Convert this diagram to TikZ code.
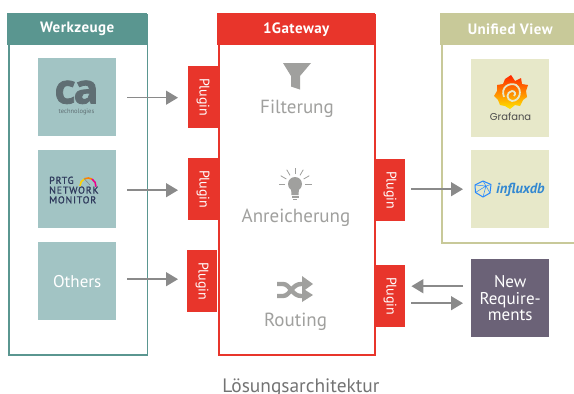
\documentclass[tikz,border=0pt]{standalone}
\usepackage{fontspec}
\setmainfont{PT Sans}
\newfontfamily\logofont{Poppins}
\newfontfamily\caFont{Open Sans}
\usetikzlibrary{arrows.meta,calc,shadings}
\definecolor{teal1}{HTML}{5A9690}
\definecolor{teal2}{HTML}{A2C4C4}
\definecolor{red1}{HTML}{E8352B}
\definecolor{olive1}{HTML}{C8C999}
\definecolor{olive2}{HTML}{E7E8C9}
\definecolor{purple1}{HTML}{6B6277}
\definecolor{gray1}{HTML}{8A8A8A}
\definecolor{gray2}{HTML}{A0A09E}
\definecolor{calogo}{HTML}{5F6E73}
\definecolor{navy1}{HTML}{2F3A5C}
\tikzset{
  frame/.style={draw=#1,line width=1.8pt,fill=white,inner sep=0,anchor=north west},
  head/.style={fill=#1,text=white,font=\fontsize{15}{17}\selectfont\bfseries\addfontfeature{LetterSpace=3},inner sep=0,anchor=north west,minimum height=32pt},
  tile/.style={fill=#1,inner sep=0,minimum width=78pt,minimum height=78pt,anchor=north west,text=white,align=center},
  plug/.style={fill=red1,text=white,inner sep=0,minimum width=30pt,minimum height=62pt,anchor=north west},
  plugt/.style={text=white,font=\fontsize{14}{16}\selectfont,rotate=-90,inner sep=0},
  flow/.style={draw=gray1,line width=1.5pt,-{Triangle[length=12pt,width=14pt,fill=gray1]}},
  func/.style={text=gray2,font=\fontsize{19}{21}\selectfont,inner sep=0,anchor=base},
  ray/.style={draw=gray2,line width=0.8pt},
}
\begin{document}
\begin{tikzpicture}[x=1pt,y=-1pt]
\useasboundingbox (0,0) rectangle (574,394);
% frames
\node[frame=teal1,minimum width=138.5pt,minimum height=340pt] (wbox) at (8,14) {};
\node[head=teal1,minimum width=140pt] (whead) at (7,13) {Werkzeuge};
\node[frame=red1,minimum width=156pt,minimum height=340pt] (gbox) at (218,14) {};
\node[head=red1,minimum width=158pt] (ghead) at (217,13) {1Gateway};
\node[frame=olive1,minimum width=150pt,minimum height=228pt] (ubox) at (441,14) {};
\node[head=olive1,minimum width=140pt] (uhead) at (440,13) {Unified View};
% tiles
\node[tile=teal2] (ca) at (38,58) {};
\node[tile=teal2] (prtg) at (38,150) {};
\node[tile=teal2,font=\fontsize{17}{19}\selectfont] (others) at (38,242) {Others};
\node[tile=olive2] (grafana) at (471,59) {};
\node[tile=olive2] (influx) at (471,150) {};
\node[tile=purple1,font=\fontsize{17}{16.8}\selectfont] (newreq) at (471,259) {New\\Require-\\ments};
% plugins
\node[plug] (p1) at (188,66) {};
\node[plug] (p2) at (188,158) {};
\node[plug] (p3) at (187,250) {};
\node[plug] (p4) at (375,159) {};
\node[plug] (p5) at (375,265) {};
\foreach \p in {p1,p2,p3,p4,p5}{\node[plugt] at (\p.center) {Plugin};}
% connectors
\draw[flow] ($(ca.east)+(11,0.5)$) -- ($(p1.west)+(-10,0.5)$);
\draw[flow] ($(prtg.east)+(11,1)$) -- ($(p2.west)+(-10,1)$);
\draw[flow] ($(others.east)+(11,-2)$) -- ($(p3.west)+(-9,-2)$);
\draw[flow] ($(p4.east)+(6,-1)$) -- ($(influx.west)+(-8,0)$);
\draw[flow] ($(newreq.west)+(-8,-12)$) -- ($(p5.east)+(6,-10)$);
\draw[flow] ($(p5.east)+(6,7)$) -- ($(newreq.west)+(-8,5)$);
% ca logo
\node[inner sep=0,anchor=base,text=calogo,font=\caFont\fontsize{41}{41}\selectfont\bfseries] (calogotxt) at (76.5,103.5) {\addfontfeature{LetterSpace=-5,FakeBold=2}ca};
\node[inner sep=0,text=calogo,font=\fontsize{6.5}{7}\selectfont] (catext) at (76.5,111.5) {technologies};
% prtg logo
\node[inner sep=0,anchor=north west,align=left,text=navy1,font=\fontsize{10}{9.8}\selectfont] (prtgtext) at (49,176.5) {\addfontfeature{LetterSpace=8,FakeBold=1.2}PRTG\\\addfontfeature{LetterSpace=8,FakeBold=1.2}NETWORK\\\addfontfeature{LetterSpace=8,FakeBold=1.2}MONITOR};
\draw[line width=1.6pt,yellow!70!orange] (80,186) arc (180:245:8);
\draw[line width=1.6pt,orange] ($(88,186)+(245:8)$) arc (245:300:8);
\draw[line width=1.6pt,magenta] ($(88,186)+(300:8)$) arc (300:365:8);
\draw[line width=.5pt,black!50] (84,178.5) -- (90,185);
% grafana logo
\path[top color=red!70!orange,bottom color=yellow!80!orange,draw=none]
  (511,75) -- (515,81) -- (521,78) -- (522,84) -- (528,85) -- (526,91) -- (527,97) -- (523,100)
  -- (520,106) -- (515,105) -- (510,109) -- (505,106) -- (500,105) -- (498,100) -- (494,96)
  -- (497,91) -- (497,85) -- (503,84) -- (505,79) -- cycle;
\draw[olive2,line width=1.8pt] (504,97) .. controls (500,87) and (510,82) .. (516,85) .. controls (523,90) and (520,101) .. (512,101) .. controls (506,100) and (506,92) .. (512,91) .. controls (515,91) and (516,94) .. (514,96);
\node[inner sep=0,text=black!70,font=\logofont\fontsize{10}{12}\selectfont] (graf) at (510.5,116.5) {Grafana};
% influx logo
\draw[draw=blue!55!cyan!85,line width=1pt,line join=round] (483,181) -- (491,184.5) -- (490,193) -- (483,197) -- (475.5,192.5) -- (475,185) -- cycle;
\draw[draw=blue!55!cyan!85,line width=.5pt] (475,185) -- (486,186) -- (491,184.5) (486,186) -- (483,197) (486,186) -- (475.5,192.5) (483,181) -- (486,186) (486,186) -- (490,193);
\node[inner sep=0,anchor=west,text=cyan!60!blue!85,font=\fontsize{14.5}{16}\selectfont\itshape\bfseries] (inftext) at (496,189.5) {influxdb};
% funnel icon
\fill[gray2] (283,63) -- (311,63) -- (300,76) -- (300,89.5) -- (291,86.5) -- (291,76) -- cycle;
\node[func] (filt) at (297,113) {Filterung};
% bulb icon
\fill[gray2] (295,184) circle (7);
\fill[gray2] (291,188) -- (299,188) -- (298.5,195) -- (291.5,195) -- cycle;
\fill[gray2] (291.5,196) rectangle (298.5,197.5);
\fill[gray2] (293,198.5) rectangle (297,200);
\foreach \a in {0,30,60,90,120,150,180}{\draw[ray] ($(295,184)+({\a}:-10)$) -- ($(295,184)+({\a}:-16.5)$);}
\node[func] (anr) at (296,222.5) {Anreicherung};
% shuffle icon
\draw[gray2,line width=4.4pt] (277,284) -- (283,284) .. controls (290,284) and (292,296) .. (301,296) -- (304,296);
\draw[gray2,line width=4.4pt] (277,296) -- (283,296) .. controls (290,296) and (292,284) .. (301,284) -- (304,284);
\fill[gray2] (302,276) -- (313,284) -- (302,292) -- cycle;
\fill[gray2] (302,288) -- (313,295) -- (302,302) -- cycle;
\node[func] (rout) at (295.5,326.5) {Routing};
% caption
\node[inner sep=0,anchor=base,text=black!55,font=\fontsize{19.4}{21}\selectfont] (cap) at (301,392.5) {Lösungsarchitektur};
\end{tikzpicture}
\end{document}
